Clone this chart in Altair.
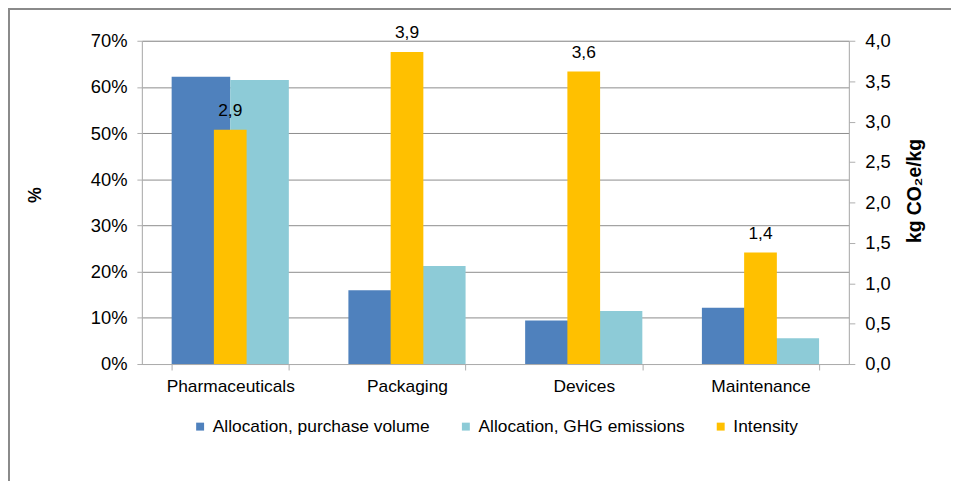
import altair as alt
import pandas as pd

categories = ["Pharmaceuticals", "Packaging", "Devices", "Maintenance"]
series_names = ["Allocation, purchase volume", "Allocation, GHG emissions", "Intensity"]
series_colors = ["#4F81BD", "#8DCBD7", "#FFC000"]

purchase_volume = [0.622, 0.160, 0.094, 0.122]
ghg_emissions = [0.615, 0.212, 0.115, 0.056]
intensity = [2.90, 3.86, 3.62, 1.38]

left_ticks = [0, 0.1, 0.2, 0.3, 0.4, 0.5, 0.6, 0.7]
right_ticks = [0, 0.5, 1.0, 1.5, 2.0, 2.5, 3.0, 3.5, 4.0]

alloc_rows = []
for c, pv, gh in zip(categories, purchase_volume, ghg_emissions):
    alloc_rows.append({"category": c, "series": series_names[0], "value": pv})
    alloc_rows.append({"category": c, "series": series_names[1], "value": gh})
alloc_df = pd.DataFrame(alloc_rows)
int_df = pd.DataFrame({"category": categories, "series": series_names[2], "value": intensity})

FONT = "Liberation Sans"
GRID = "#8C8C8C"
AXL = "#ADADAD"

x_enc = alt.X(
    "category:N",
    sort=categories,
    scale=alt.Scale(domain=categories, paddingInner=0.337, paddingOuter=0.1685),
    axis=alt.Axis(
        title=None, labelAngle=0, labelFontSize=17.5, labelPadding=8,
        tickBand="extent", tickSize=6, tickColor=AXL, domainColor=AXL,
        labelColor="#000000", labelFont=FONT, grid=False,
    ),
)

color_enc = alt.Color(
    "series:N",
    scale=alt.Scale(domain=series_names, range=series_colors),
    legend=alt.Legend(
        title=None, orient="none", legendX=50, legendY=380, direction="horizontal",
        gridAlign="each", columnPadding=27, symbolType="square", symbolSize=64,
        symbolStrokeWidth=0, labelFontSize=17.5, labelFont=FONT, labelColor="#000000",
        labelLimit=400, labelOffset=4,
    ),
)

bars = alt.Chart(alloc_df).mark_bar().encode(
    x=x_enc,
    xOffset=alt.XOffset("series:N", sort=series_names[:2],
                        scale=alt.Scale(domain=series_names[:2], paddingInner=0, paddingOuter=0)),
    y=alt.Y(
        "value:Q",
        scale=alt.Scale(domain=[0, 0.7], nice=False),
        axis=alt.Axis(
            title="%", values=left_ticks, format=".0%", grid=True, gridColor=GRID,
            domainColor=AXL, tickColor=AXL, tickSize=5, labelPadding=10,
            labelFontSize=18.5, labelFont=FONT, labelColor="#000000",
            titleFontSize=18, titleFontWeight="bold", titleFont=FONT, titleColor="#000000",
            titleAngle=270, titleBaseline="middle", titleAlign="center",
            titleX=-107, titleY=155,
        ),
    ),
    color=color_enc,
)

right_axis = alt.Axis(
    title="kg CO₂e/kg", values=right_ticks, orient="right", grid=False,
    labelExpr="replace(format(datum.value, '.1f'), '.', ',')",
    domainColor=AXL, tickColor=AXL, tickSize=6, labelPadding=10,
    labelFontSize=18.5, labelFont=FONT, labelColor="#000000",
    titleFontSize=19.5, titleFontWeight="bold", titleFont=FONT, titleColor="#000000",
    titleAngle=270, titleBaseline="middle", titleAlign="center",
    titleX=66, titleY=151,
)
y_right = alt.Y("value:Q", scale=alt.Scale(domain=[0, 4], nice=False), axis=right_axis)

orange = alt.Chart(int_df).mark_bar(size=33).encode(
    x=x_enc, y=y_right, color=color_enc,
)
labels = alt.Chart(int_df).transform_calculate(
    label="replace(format(datum.value, '.1f'), '.', ',')"
).mark_text(baseline="alphabetic", dy=-14, fontSize=17.5, font=FONT, color="#000000").encode(
    x=x_enc, y=y_right, text="label:N",
)

frame = alt.Chart(pd.DataFrame({"f": [0]})).mark_rect(
    fillOpacity=0, stroke="#8A8A8A", strokeWidth=2
).encode(
    x=alt.value(-134), x2=alt.value(840), y=alt.value(-32), y2=alt.value(500),
)

chart = alt.layer(
    frame, bars, alt.layer(orange, labels)
).resolve_scale(y="independent").properties(
    width=713, height=326,
    autosize=alt.AutoSizeParams(type="none"),
    padding={"left": 135, "top": 31, "right": 103, "bottom": 125},
).configure_view(stroke=None).configure(background="white")

chart.save("out.html", embed_options={"renderer": "svg", "actions": False})
